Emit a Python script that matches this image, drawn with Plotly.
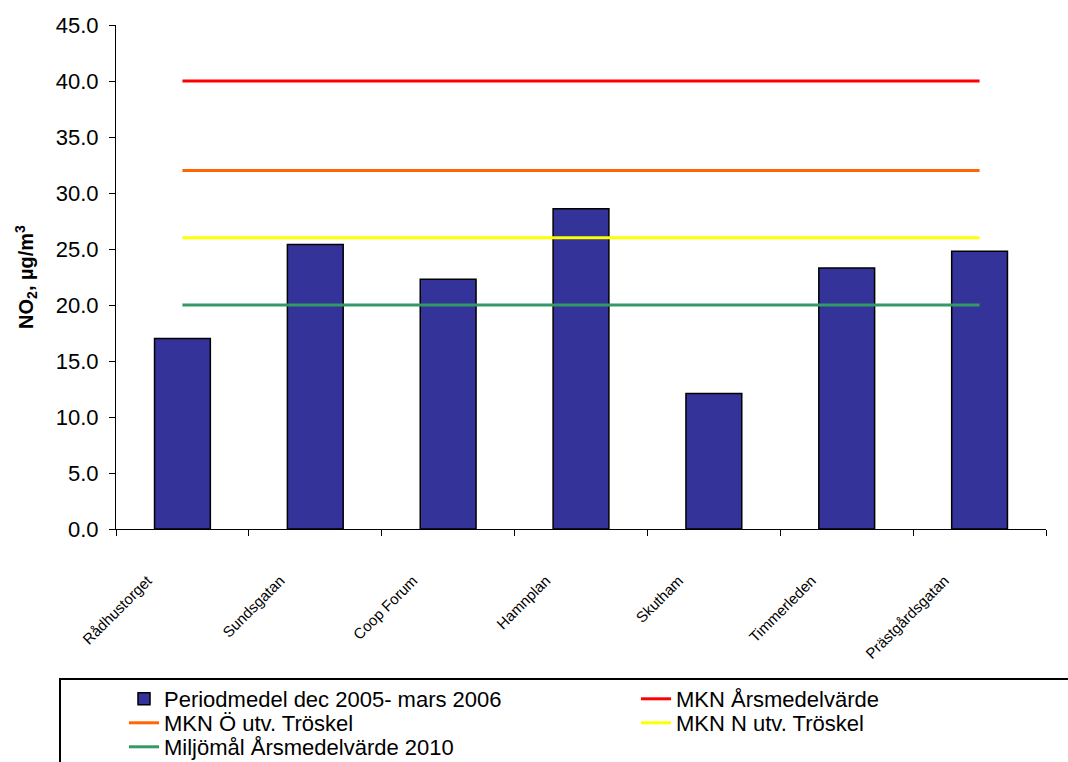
import plotly.graph_objects as go

categories = ["Rådhustorget", "Sundsgatan", "Coop Forum", "Hamnplan", "Skutham", "Timmerleden", "Prästgårdsgatan"]
periodmedel = [17.0, 25.4, 22.3, 28.6, 12.1, 23.3, 24.8]
mkn_arsmedel = [40.0] * 7
mkn_o_trosk = [32.0] * 7
mkn_n_trosk = [26.0] * 7
miljomal_2010 = [20.0] * 7
y_ticks = [0, 5, 10, 15, 20, 25, 30, 35, 40, 45]

font_family = "Arial, Liberation Sans, sans-serif"

W, H = 1068, 762
L, R, T, B = 116, 22, 25, 233
PW, PH = W - L - R, H - T - B


def px_x(px):
    return (px - L) / PW


def px_y(py):
    return (H - B - py) / PH


fig = go.Figure()
fig.add_trace(go.Bar(
    x=categories, y=periodmedel, name="Periodmedel dec 2005- mars 2006",
    marker=dict(color="#333399", line=dict(color="black", width=1.5)),
    legend="legend",
))
line_specs = [
    (mkn_arsmedel, "MKN Årsmedelvärde", "#FF0000", "legend2"),
    (mkn_o_trosk, "MKN Ö utv. Tröskel", "#FF6600", "legend3"),
    (mkn_n_trosk, "MKN N utv. Tröskel", "#FFFF00", "legend4"),
    (miljomal_2010, "Miljömål Årsmedelvärde 2010", "#339966", "legend5"),
]
for vals, name, color, lg in line_specs:
    fig.add_trace(go.Scatter(x=categories, y=vals, name=name, mode="lines",
                             line=dict(color=color, width=3), legend=lg))

legend_font = dict(size=22, family=font_family, color="black")


def leg(x_px, y_px):
    return dict(x=px_x(x_px), xanchor="left", y=px_y(y_px), yanchor="middle",
                bgcolor="rgba(0,0,0,0)", borderwidth=0, font=legend_font,
                orientation="v")


fig.update_layout(
    width=W, height=H,
    paper_bgcolor="white", plot_bgcolor="white",
    font=dict(family=font_family, size=22, color="black"),
    margin=dict(l=L, r=R, t=T, b=B, autoexpand=False),
    bargap=0.58,
    showlegend=True,
    legend=leg(124, 699),
    legend2=leg(636, 699),
    legend3=leg(124, 723),
    legend4=leg(636, 723),
    legend5=leg(124, 747),
    xaxis=dict(
        type="category", showline=True, linecolor="black", linewidth=1,
        ticks="outside", ticklen=6, tickcolor="black", tickson="boundaries",
        tickangle=-45, tickfont=dict(size=15, family=font_family),
        ticklabelshift=-35, ticklabelstandoff=36,
        showgrid=False, zeroline=False,
    ),
    yaxis=dict(
        range=[0, 45], tickvals=y_ticks, tickformat=".1f",
        showline=True, linecolor="black", linewidth=1,
        ticks="outside", ticklen=6, tickcolor="black",
        showgrid=False, zeroline=False, ticklabelstandoff=6,
        tickfont=dict(size=22, family=font_family),
        title=dict(text="<b>NO<sub>2</sub>, µg/m<sup>3</sup></b>",
                   font=dict(size=20), standoff=16),
    ),
    shapes=[dict(type="rect", xref="paper", yref="paper",
                 x0=px_x(60), x1=px_x(1080), y0=px_y(679), y1=px_y(775),
                 line=dict(color="black", width=2), fillcolor="rgba(0,0,0,0)",
                 layer="below")],
)

fig.write_html("out.html")
